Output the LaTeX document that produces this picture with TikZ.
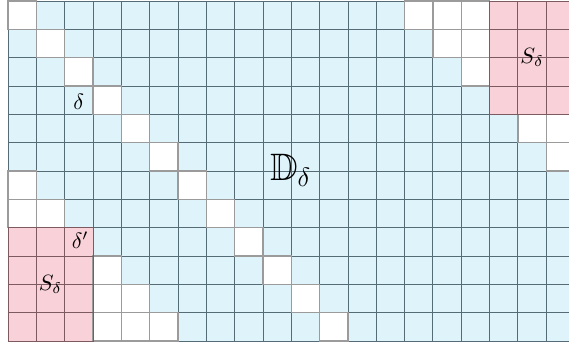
\documentclass[tikz,border=0pt]{standalone}
\usepackage{amssymb}
\definecolor{cellblue}{RGB}{223,243,250}
\definecolor{cellpink}{RGB}{249,209,217}
\definecolor{bluegrid}{RGB}{85,108,118}
\definecolor{pinkgrid}{RGB}{125,90,96}
\definecolor{whitegrid}{RGB}{155,155,155}
\begin{document}
\begin{tikzpicture}[x=0.45cm,y=0.45cm,
  gridline/.style={draw=bluegrid,line width=0.4pt,step=0.45cm},
  whiteline/.style={draw=whitegrid,line width=0.6pt},
  pinkline/.style={draw=pinkgrid,line width=0.4pt,step=0.45cm},
  lbl/.style={inner sep=0pt}]
\useasboundingbox (-0.282,-0.10) rectangle (19.803,12.04);
\clip (-0.282,-0.10) rectangle (19.803,12.04);
\def\whitecells{0/11,14/11,15/11,16/11,1/10,15/10,16/10,2/9,16/9,3/8,4/7,18/7,19/7,5/6,19/6,0/5,6/5,0/4,1/4,7/4,8/3,3/2,9/2,3/1,4/1,10/1,3/0,4/0,5/0,11/0}
\fill[cellblue] (0,0) rectangle (20,12);
\fill[cellpink] (0,0) rectangle (3,4);
\fill[cellpink] (17,8) rectangle (20,12);
\foreach \c/\y in \whitecells {\fill[white] (\c,\y) rectangle ++(1,1);}
\draw[gridline] (0,0) grid (20,12);
\foreach \c/\y in \whitecells {\draw[whiteline] (\c,\y) rectangle ++(1,1);}
\draw[pinkline] (0,0) grid (3,4);
\draw[pinkline] (17,8) grid (20,12);
\draw[pinkline] (0,0) rectangle (3,4);
\draw[pinkline] (17,8) rectangle (20,12);
\node[lbl] (delta) at (2.5,8.45) {$\delta$};
\node[lbl] (deltap) at (2.55,3.55) {$\delta'$};
\node[lbl] (D) at (9.98,6.03) {\LARGE$\mathbb{D}_\delta$};
\node[lbl] (Sright) at (18.5,10.02) {$S_\delta$};
\node[lbl] (Sleft) at (1.5,2.0) {$S_\delta$};
\end{tikzpicture}
\end{document}
